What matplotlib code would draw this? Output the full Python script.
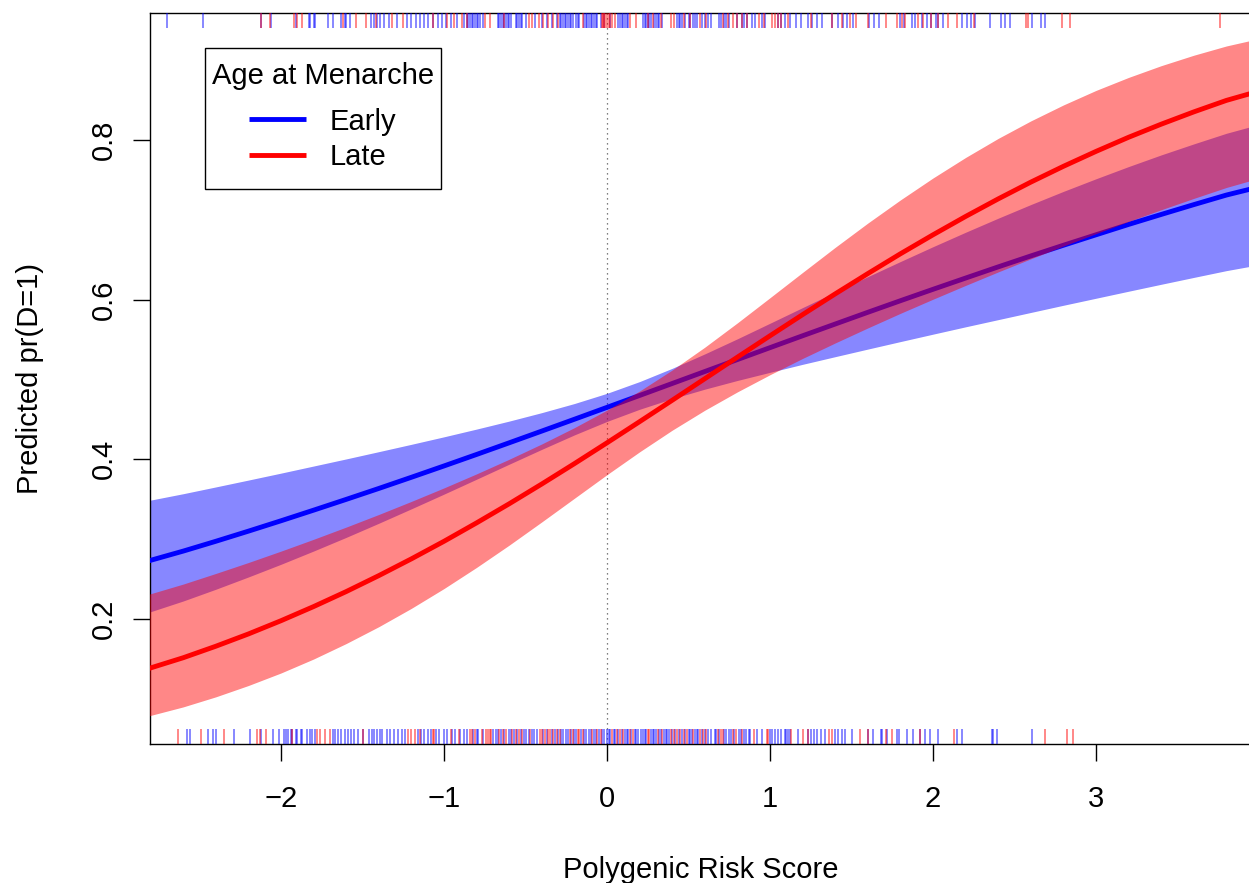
import matplotlib
matplotlib.use("Agg")
import matplotlib.pyplot as plt
from matplotlib.lines import Line2D
from matplotlib.patches import Rectangle

plt.rcParams['font.family'] = ['Liberation Sans', 'DejaVu Sans']

# ---------------- data ----------------
prs_grid = [-2.81, -2.6, -2.4, -2.2, -2.0, -1.8, -1.6, -1.4, -1.2, -1.0, -0.8, -0.6,
            -0.4, -0.2, 0.0, 0.2, 0.4, 0.6, 0.8, 1.0, 1.2, 1.4, 1.6, 1.8, 2.0, 2.2,
            2.4, 2.6, 2.8, 3.0, 3.2, 3.4, 3.6, 3.8, 3.96]

early_fit = [0.2729, 0.2850, 0.2973, 0.3100, 0.3230, 0.3363, 0.3498, 0.3635, 0.3775,
             0.3917, 0.4061, 0.4207, 0.4354, 0.4502, 0.4651, 0.4800, 0.4950, 0.5100,
             0.5250, 0.5399, 0.5548, 0.5695, 0.5842, 0.5987, 0.6130, 0.6271, 0.6411,
             0.6548, 0.6682, 0.6813, 0.6943, 0.7068, 0.7191, 0.7311, 0.7392]
early_lo = [0.2084, 0.2225, 0.2372, 0.2526, 0.2685, 0.2851, 0.3022, 0.3199, 0.3380,
            0.3564, 0.3751, 0.3939, 0.4125, 0.4306, 0.4475, 0.4627, 0.4760, 0.4879,
            0.4988, 0.5090, 0.5190, 0.5286, 0.5381, 0.5475, 0.5568, 0.5660, 0.5750,
            0.5840, 0.5930, 0.6018, 0.6106, 0.6193, 0.6279, 0.6364, 0.6423]
early_hi = [0.3485, 0.3569, 0.3654, 0.3740, 0.3827, 0.3916, 0.4005, 0.4096, 0.4188,
            0.4282, 0.4379, 0.4479, 0.4585, 0.4699, 0.4827, 0.4974, 0.5140, 0.5321,
            0.5510, 0.5705, 0.5901, 0.6095, 0.6289, 0.6478, 0.6664, 0.6845, 0.7021,
            0.7192, 0.7357, 0.7515, 0.7668, 0.7814, 0.7952, 0.8085, 0.8174]

late_fit = [0.1380, 0.1514, 0.1658, 0.1812, 0.1978, 0.2155, 0.2343, 0.2543, 0.2753,
            0.2973, 0.3204, 0.3443, 0.3691, 0.3946, 0.4207, 0.4472, 0.4740, 0.5010,
            0.5280, 0.5548, 0.5813, 0.6073, 0.6327, 0.6575, 0.6813, 0.7043, 0.7263,
            0.7473, 0.7671, 0.7858, 0.8035, 0.8199, 0.8353, 0.8497, 0.8590]
late_lo = [0.0786, 0.0898, 0.1024, 0.1166, 0.1323, 0.1498, 0.1692, 0.1903, 0.2133,
           0.2381, 0.2646, 0.2925, 0.3216, 0.3512, 0.3808, 0.4094, 0.4365, 0.4615,
           0.4845, 0.5060, 0.5264, 0.5458, 0.5646, 0.5829, 0.6006, 0.6179, 0.6348,
           0.6512, 0.6672, 0.6828, 0.6980, 0.7127, 0.7269, 0.7406, 0.7499]
late_hi = [0.2310, 0.2437, 0.2570, 0.2707, 0.2850, 0.2998, 0.3151, 0.3309, 0.3473,
           0.3642, 0.3818, 0.4001, 0.4193, 0.4397, 0.4617, 0.4856, 0.5119, 0.5405,
           0.5710, 0.6025, 0.6342, 0.6656, 0.6960, 0.7250, 0.7525, 0.7782, 0.8021,
           0.8240, 0.8440, 0.8622, 0.8785, 0.8932, 0.9063, 0.9179, 0.9253]

# rug: observed PRS values, D=1 (top) and D=0 (bottom), by group
rug_top_early = [
    -2.70, -2.48, -2.12, -2.06, -1.91, -1.83, -1.82, -1.80, -1.79, -1.71, -1.68, -1.63,
    -1.61, -1.60, -1.58, -1.45, -1.43, -1.41, -1.39, -1.37, -1.34, -1.29, -1.23, -1.20,
    -1.17, -1.15, -1.12, -1.10,
    -1.07, -1.04, -1.01, -0.99, -0.96, -0.92, -0.88, -0.86, -0.85, -0.84, -0.83, -0.82,
    -0.81, -0.80, -0.79, -0.78, -0.76, -0.67, -0.66, -0.65, -0.64, -0.63, -0.62, -0.61,
    -0.60, -0.59, -0.56, -0.55, -0.54, -0.53, -0.52, -0.50, -0.44, -0.40, -0.37, -0.34,
    -0.31, -0.29, -0.28, -0.27, -0.26, -0.25, -0.24, -0.23, -0.22, -0.21, -0.19, -0.18,
    -0.17, -0.14, -0.13, -0.12, -0.11, -0.10, -0.09, -0.08, -0.07, -0.06, -0.04, -0.02,
    0.02, 0.07, 0.08, 0.09, 0.10, 0.11, 0.12, 0.13, 0.22, 0.23, 0.24, 0.25, 0.26, 0.27,
    0.29, 0.30, 0.31, 0.32, 0.34, 0.43, 0.44, 0.45, 0.46, 0.48, 0.50, 0.51, 0.53, 0.54,
    0.55, 0.58, 0.60, 0.62,
    0.64, 0.69, 0.70, 0.72, 0.73, 0.75, 0.80, 0.83, 0.84, 0.86, 0.89, 0.91, 0.95, 0.97,
    1.05, 1.07, 1.09, 1.12, 1.16, 1.19, 1.23, 1.26, 1.29, 1.32, 1.38, 1.42, 1.45, 1.47,
    1.51, 1.61, 1.64, 1.67, 1.80, 1.82, 1.87, 1.89, 1.93, 1.96, 1.99, 2.02, 2.03, 2.06,
    2.18, 2.21, 2.23, 2.26, 2.35, 2.42, 2.44, 2.47, 2.61, 2.66, 2.69]
rug_top_late = [
    -2.12, -2.07, -1.92, -1.90, -1.87, -1.62, -1.54, -1.48, -1.42, -1.32, -1.25,
    -1.07, -0.98, -0.94, -0.89, -0.86, -0.75, -0.72, -0.63, -0.48, -0.46, -0.42, -0.39,
    -0.36, -0.33, -0.30, -0.15, -0.03, -0.025, -0.02, -0.01, 0.0, 0.01, 0.02, 0.03,
    0.05, 0.14, 0.18, 0.25, 0.28, 0.33, 0.39, 0.41, 0.47, 0.51, 0.57, 0.61,
    0.71, 0.74, 0.77, 0.80, 0.83, 0.86, 0.93, 0.96, 1.01, 1.03, 1.05, 1.07, 1.11, 1.25,
    1.38, 1.44, 1.49, 1.53, 1.60, 1.71, 1.78, 1.81, 1.83, 1.91, 1.94, 1.99, 2.03, 2.09,
    2.15, 2.25, 2.57, 2.58, 2.79, 2.84, 3.76]
rug_bottom_early = [
    -2.58, -2.56, -2.45, -2.42, -2.40, -2.29, -2.19, -2.12, -2.05, -2.01, -1.98, -1.97,
    -1.96, -1.94, -1.93, -1.91, -1.90, -1.88, -1.87, -1.84, -1.82, -1.81, -1.79, -1.68,
    -1.67, -1.65, -1.63, -1.61, -1.59, -1.57, -1.55, -1.53, -1.50, -1.46, -1.44, -1.43,
    -1.41, -1.39, -1.38, -1.35, -1.33, -1.31, -1.28, -1.26, -1.24, -1.16, -1.14, -1.12,
    -1.10,
    -1.08, -1.05, -1.03, -1.00, -0.98, -0.95, -0.93, -0.90, -0.88, -0.86, -0.82, -0.80,
    -0.79, -0.76, -0.70, -0.68, -0.67, -0.65, -0.63, -0.60, -0.59, -0.57, -0.55, -0.53,
    -0.51, -0.50, -0.48, -0.46, -0.45, -0.43, -0.39, -0.37, -0.34, -0.32, -0.30, -0.28,
    -0.27, -0.25, -0.24, -0.22, -0.20, -0.19, -0.16, -0.14, -0.13, -0.11, -0.10, -0.08,
    -0.07, -0.05, -0.03, -0.02, 0.00, 0.01, 0.02, 0.04, 0.05, 0.07, 0.09, 0.11, 0.12,
    0.13, 0.15, 0.17, 0.18, 0.19, 0.21, 0.22, 0.23, 0.24, 0.27, 0.28, 0.29, 0.30, 0.32,
    0.33, 0.35, 0.36, 0.37, 0.38, 0.40, 0.42, 0.44, 0.46, 0.48, 0.50, 0.51, 0.52, 0.54,
    0.55, 0.56, 0.58, 0.60, 0.62,
    0.64, 0.66, 0.67, 0.69, 0.72, 0.73, 0.75, 0.76, 0.78, 0.81, 0.82, 0.84, 0.85, 0.87,
    0.88, 0.92, 0.95, 1.00, 1.01, 1.03, 1.05, 1.07, 1.09, 1.10, 1.11, 1.12,
    1.17, 1.23, 1.25, 1.27, 1.29, 1.31, 1.34, 1.40, 1.42, 1.44, 1.46, 1.50, 1.60, 1.63,
    1.68, 1.69, 1.72, 1.78, 1.79, 1.84, 1.88, 1.92, 1.95, 1.98, 2.03, 2.15, 2.18, 2.36,
    2.37, 2.39, 2.61]
rug_bottom_late = [
    -2.63, -2.49, -2.35, -2.15, -2.13, -2.09, -1.93, -1.78, -1.76, -1.73, -1.70, -1.50,
    -1.22, -1.20, -1.18, -1.15,
    -1.07, -1.06, -0.96, -0.91, -0.84, -0.83, -0.81, -0.77, -0.74, -0.73, -0.72, -0.71,
    -0.66, -0.64, -0.62, -0.58, -0.56, -0.54, -0.52, -0.47, -0.41, -0.40, -0.38, -0.36,
    -0.35, -0.33, -0.31, -0.29, -0.23, -0.21, -0.18, -0.17, -0.15, -0.09, -0.06, -0.04,
    0.03, 0.06, 0.08, 0.10, 0.14, 0.16, 0.25, 0.26, 0.31, 0.34, 0.39, 0.41, 0.43, 0.45,
    0.47, 0.49, 0.53, 0.57, 0.59, 0.61,
    0.68, 0.70, 0.71, 0.77, 0.79, 0.83, 0.90, 0.98, 0.99, 1.13, 1.20, 1.23, 1.36, 1.38,
    1.55, 1.60, 1.71, 1.75, 1.92, 2.13, 2.69, 2.82, 2.86]

groups = ["Early", "Late"]
group_colors = ["#0000FF", "#FF0000"]
x_ticks = [-2, -1, 0, 1, 2, 3]
y_ticks = [0.2, 0.4, 0.6, 0.8]

FS = 21

# ---------------- figure ----------------
W, H = 1249, 883
fig = plt.figure(figsize=(W / 100, H / 100), dpi=100)
ax = fig.add_axes([150 / W, (H - 744) / H, 1102 / W, 731 / H])
ax.set_xlim(-2.804, 3.957)
ax.set_ylim(0.0433, 0.9592)

ax.axvline(0, color="#555555", linestyle=(0, (1, 3)), linewidth=0.9, zorder=1)

ax.fill_between(prs_grid, early_lo, early_hi, color=group_colors[0], alpha=0.47,
                linewidth=0, zorder=2)
ax.plot(prs_grid, early_fit, color=group_colors[0], linewidth=3.5, zorder=3,
        solid_capstyle="butt", solid_joinstyle="round")
ax.fill_between(prs_grid, late_lo, late_hi, color=group_colors[1], alpha=0.47,
                linewidth=0, zorder=4)
ax.plot(prs_grid, late_fit, color=group_colors[1], linewidth=3.5, zorder=5,
        solid_capstyle="butt", solid_joinstyle="round")

tr = ax.get_xaxis_transform()
rug_h = 15 / 731
rug_lw = 1.2
rug_alpha = 0.55
ax.vlines(rug_bottom_early, 0, rug_h, transform=tr, color=group_colors[0],
          alpha=rug_alpha, linewidth=rug_lw, zorder=6)
ax.vlines(rug_bottom_late, 0, rug_h, transform=tr, color=group_colors[1],
          alpha=rug_alpha, linewidth=rug_lw, zorder=6)
ax.vlines(rug_top_early, 1 - rug_h, 1, transform=tr, color=group_colors[0],
          alpha=rug_alpha, linewidth=rug_lw, zorder=6)
ax.vlines(rug_top_late, 1 - rug_h, 1, transform=tr, color=group_colors[1],
          alpha=rug_alpha, linewidth=rug_lw, zorder=6)

# axes styling (R base look)
for side in ["left", "bottom", "top"]:
    ax.spines[side].set_linewidth(1.0)
    ax.spines[side].set_color("black")
ax.spines["right"].set_visible(False)

ax.set_xticks(x_ticks)
ax.set_xticklabels([("\u2212" + str(abs(v))) if v < 0 else str(v) for v in x_ticks])
ax.set_yticks(y_ticks)
ax.set_yticklabels([f"{v:.1f}" for v in y_ticks])
ax.tick_params(axis="both", direction="out", length=12.2, width=1.0, labelsize=FS,
               colors="black")
ax.tick_params(axis="x", pad=17)
ax.tick_params(axis="y", pad=11, labelrotation=90)
for lab in ax.get_yticklabels():
    lab.set_verticalalignment("center")

ax.set_xlabel("Polygenic Risk Score", fontsize=FS)
ax.set_ylabel("Predicted pr(D=1)", fontsize=FS)
ax.xaxis.set_label_coords(0.5, -0.153)
ax.yaxis.set_label_coords(-0.096, 0.5)

# legend: content from matplotlib, frame drawn as in R (box 205..441 x 48..189 px)
handles = [Line2D([], [], color=c, linewidth=3.5, solid_capstyle="butt")
           for c in group_colors]
leg = ax.legend(handles, groups, title="Age at Menarche", fontsize=FS, title_fontsize=FS,
                loc="upper left", bbox_to_anchor=(202 / W, (H - 52) / H),
                bbox_transform=fig.transFigure, borderaxespad=0, frameon=False,
                handlelength=1.95, handletextpad=0.8, labelspacing=0.25,
                borderpad=0.33)
leg._legend_box.sep = 13
leg.set_zorder(10)
frame = Rectangle((205 / W, (H - 189) / H), 236 / W, 141 / H, transform=fig.transFigure,
                  facecolor="white", edgecolor="black", linewidth=1.0, zorder=9)
ax.add_artist(frame)
frame.set_clip_on(False)

fig.savefig("out.png", dpi=100)
